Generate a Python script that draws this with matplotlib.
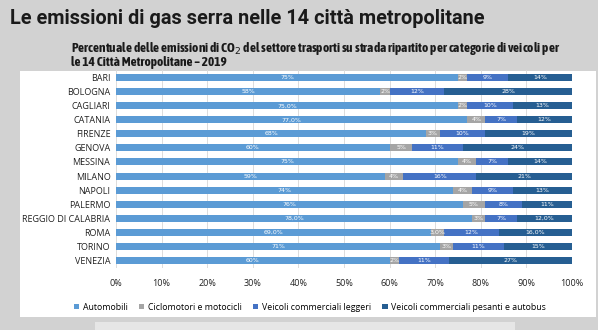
import matplotlib.pyplot as plt
from matplotlib.patches import Rectangle
from matplotlib import font_manager
import numpy as np

cities = ['BARI', 'BOLOGNA', 'CAGLIARI', 'CATANIA', 'FIRENZE', 'GENOVA', 'MESSINA',
          'MILANO', 'NAPOLI', 'PALERMO', 'REGGIO DI CALABRIA', 'ROMA', 'TORINO', 'VENEZIA']
automobili = [75, 58, 75, 77, 68, 60, 75, 59, 74, 76, 78, 69, 71, 60]
ciclomotori = [2, 2, 2, 4, 3, 5, 4, 4, 4, 5, 3, 3, 3, 2]
comm_leggeri = [9, 12, 10, 7, 10, 11, 7, 16, 9, 8, 7, 12, 11, 11]
comm_pesanti = [14, 28, 13, 12, 19, 24, 14, 21, 13, 11, 12, 16, 15, 27]
# labels as printed on the slide (some carry one decimal)
lab_auto = ['75%', '58%', '75,0%', '77,0%', '68%', '60%', '75%', '59%', '74%', '76%', '78,0%', '69,0%', '71%', '60%']
lab_cicl = ['2%', '2%', '2%', '4%', '3%', '5%', '4%', '4%', '4%', '5%', '3%', '3,0%', '3%', '2%']
lab_legg = ['9%', '12%', '10%', '7%', '10%', '11%', '7%', '16%', '9%', '8%', '7%', '12%', '11%', '11%']
lab_pes = ['14%', '28%', '13%', '12%', '19%', '24%', '14%', '21%', '13%', '11%', '12,0%', '16,0%', '15%', '27%']

series = [automobili, ciclomotori, comm_leggeri, comm_pesanti]
labels = [lab_auto, lab_cicl, lab_legg, lab_pes]
names = ['Automobili', 'Ciclomotori e motocicli', 'Veicoli commerciali leggeri',
         'Veicoli commerciali pesanti e autobus']
colors = ['#5b9bd5', '#a5a5a5', '#4472c4', '#265e92']

# a narrow bold font for the subtitle if one is there
bold_narrow = sorted({f.name for f in font_manager.fontManager.ttflist
                      if ('Narrow' in f.name or 'Condensed' in f.name or f.stretch == 'condensed')
                      and f.weight in ('bold', 700, 'semibold', 600)})
pref = [n for n in ['Liberation Sans Narrow', 'DejaVu Sans Condensed'] if n in bold_narrow]
if pref:
    sub_font, sub_size = pref[0], 9.6
elif bold_narrow:
    sub_font, sub_size = bold_narrow[0], 9.6
else:
    sub_font, sub_size = 'Roboto', 7.3

W, H = 598, 330
fig = plt.figure(figsize=(W / 100, H / 100), dpi=100)
fig.patch.set_facecolor('#d2d2d2')

# white panel of the slide
fig.patches.append(Rectangle((20 / W, 1 - 317 / H), 576 / W, 246 / H,
                             transform=fig.transFigure, facecolor='white',
                             edgecolor='none', zorder=-5))
fig.patches.append(Rectangle((95 / W, 0), 420 / W, 8 / H,
                             transform=fig.transFigure, facecolor='#e6e6e6',
                             edgecolor='none', zorder=-5))

fig.text(10 / W, 1 - 24 / H, 'Le emissioni di gas serra nelle 14 città metropolitane',
         fontsize=14.3, fontweight='bold', family='Roboto', color='#1a1a1a')
fig.text(71 / W, 1 - 52 / H,
         'Percentuale delle emissioni di CO$_2$ del settore trasporti su strada ripartito per categorie di veicoli per',
         fontsize=sub_size, fontweight='bold', family=sub_font, color='#1a1a1a')
fig.text(71 / W, 1 - 66 / H, 'le 14 Città Metropolitane – 2019',
         fontsize=sub_size, fontweight='bold', family=sub_font, color='#1a1a1a')

ax = fig.add_axes([116 / W, 1 - 268 / H, 456 / W, 198 / H])
ax.set_zorder(2)
ax.set_facecolor('none')
y = np.arange(len(cities))
left = np.zeros(len(cities))
for vals, labs, name, col in zip(series, labels, names, colors):
    vals = np.array(vals, dtype=float)
    ax.barh(y, vals, left=left, height=0.5, color=col, label=name, zorder=2)
    for yi, l, v, t in zip(y, left, vals, labs):
        ax.text(l + v / 2, yi, t, ha='center', va='center', fontsize=4.5,
                color='white', zorder=3)
    left += vals

ax.set_xlim(0, 100)
ax.set_ylim(13.57, -0.57)
ax.set_xticks(np.arange(0, 101, 10))
ax.set_xticklabels([f'{v}%' for v in range(0, 101, 10)], fontsize=6.5,
                   family='Open Sans', color='#222222')
ax.set_yticks(y)
ax.set_yticklabels(cities, fontsize=6.5, family='Open Sans', color='#222222')
ax.tick_params(length=0, pad=4)
ax.tick_params(axis='x', pad=8)
ax.grid(axis='x', color='#dcdcdc', linewidth=0.7, zorder=0)
for s in ax.spines.values():
    s.set_visible(False)

leg = fig.legend(loc='center', bbox_to_anchor=(310 / W, 1 - 307 / H), ncol=4,
                 frameon=False, prop={'family': 'Open Sans', 'size': 6.3},
                 handlelength=0.6, handleheight=0.6, handletextpad=0.4, columnspacing=1.3)
leg.set_zorder(3)

plt.savefig('out.png', dpi=100)
